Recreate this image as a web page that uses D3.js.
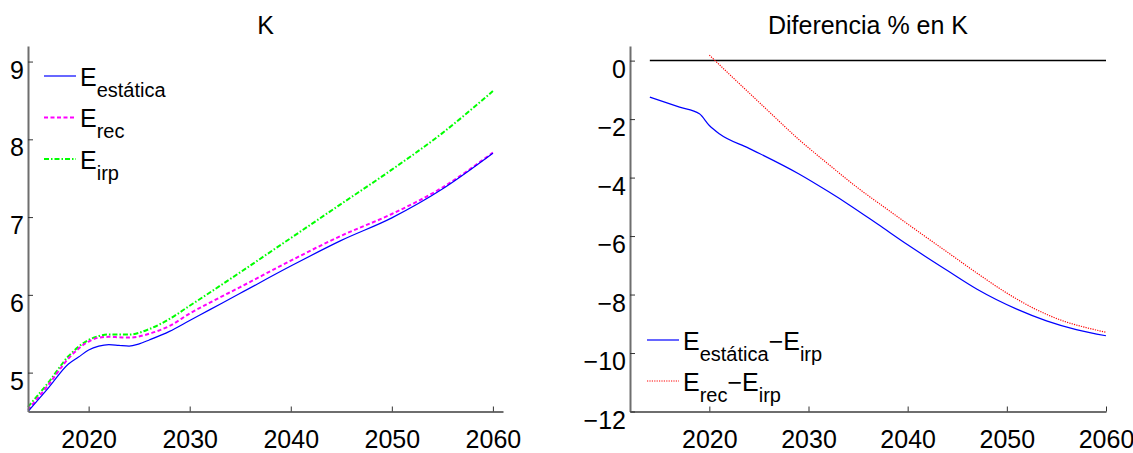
<!DOCTYPE html>
<html><head><meta charset="utf-8">
<script src="https://cdn.jsdelivr.net/npm/d3@7"></script>
<style>
body{margin:0;background:#fff;}
text{font-family:"Liberation Sans",Arial,Helvetica,sans-serif;fill:#000;}
</style></head>
<body><svg id="c" width="1133" height="453"></svg>
<script>
// ---- Data ----
const leftTitle = "K";
const rightTitle = "Diferencia % en K";

const yearsEst = [2014,2016,2018,2019,2020,2021,2022,2023,2024,2025,2026,2028,2030,2032,2035,2040,2045,2050,2055,2060];
const valEst   = [4.50,4.80,5.11,5.20,5.29,5.34,5.36,5.35,5.34,5.37,5.42,5.53,5.67,5.81,6.02,6.37,6.70,6.99,7.36,7.82];

const yearsRec = [2014,2016,2018,2020,2021,2022,2023,2024,2026,2028,2030,2032,2035,2040,2045,2050,2055,2060];
const valRec   = [4.52,4.84,5.18,5.40,5.45,5.46,5.455,5.45,5.50,5.60,5.76,5.90,6.10,6.44,6.76,7.04,7.38,7.83];

const yearsIrp = [2014,2016,2018,2020,2021,2022,2023,2024,2026,2028,2030,2032,2035,2040,2045,2050,2055,2060];
const valIrp   = [4.56,4.87,5.21,5.42,5.47,5.49,5.49,5.49,5.56,5.69,5.86,6.03,6.29,6.73,7.17,7.61,8.08,8.62];

const yearsDiffEst = [2014,2017,2019,2020,2021,2024,2029,2032,2034,2037,2040,2044,2047,2051,2054,2057,2060];
const valDiffEst   = [-1.25,-1.59,-1.82,-2.22,-2.50,-3.00,-3.87,-4.48,-4.91,-5.60,-6.30,-7.18,-7.82,-8.50,-8.90,-9.20,-9.41];

const yearsDiffRec = [2020,2022,2024,2026,2029,2032,2035,2038,2041,2044,2047,2050,2053,2056,2058,2060];
const valDiffRec   = [0.19,-0.46,-1.10,-1.74,-2.69,-3.54,-4.36,-5.10,-5.83,-6.55,-7.27,-7.95,-8.52,-8.94,-9.13,-9.29];

const zeroLineYears = [2014,2060];

const xTicks = [2020,2030,2040,2050,2060];
const yTicksLeft = [5,6,7,8,9];
const yTicksRight = [0,-2,-4,-6,-8,-10,-12];

// ---- Drawing ----
const svg = d3.select("#c");

function axes(g, x, y, xt, yt){
  const xa = g.append("g").attr("transform",`translate(0,${y.range()[0]})`)
    .call(d3.axisBottom(x).tickValues(xt).tickFormat(d3.format("d")).tickSizeInner(-5).tickSizeOuter(0));
  const ya = g.append("g").attr("transform",`translate(${x.range()[0]},0)`)
    .call(d3.axisLeft(y).tickValues(yt).tickFormat(d3.format("d")).tickSizeInner(-5).tickSizeOuter(0));
  [xa,ya].forEach(a=>{
    a.select(".domain").attr("stroke","#6e6e6e").attr("stroke-width",2);
    a.selectAll(".tick line").attr("stroke","#333").attr("stroke-width",1);
    a.selectAll(".tick text").style("font-size","25px").attr("fill","#000");
  });
  xa.selectAll(".tick text").attr("y",36).attr("dy",0).attr("text-anchor","middle");
  ya.selectAll(".tick text").attr("x",-4).attr("y",16.5).attr("dy",0).attr("text-anchor","end");
}

function line(g, x, y, xs, ys, color, width, dash, curve){
  const pts = xs.map((d,i)=>[d,ys[i]]);
  g.append("path").datum(pts)
    .attr("fill","none").attr("stroke",color).attr("stroke-width",width)
    .attr("stroke-dasharray",dash||null)
    .attr("d", d3.line().x(d=>x(d[0])).y(d=>y(d[1])).curve(curve||d3.curveMonotoneX));
}

function legendEntry(g, x0, x1, ly, color, width, dash, parts){
  g.append("line").attr("x1",x0).attr("x2",x1).attr("y1",ly).attr("y2",ly)
    .attr("stroke",color).attr("stroke-width",width).attr("stroke-dasharray",dash||null);
  const t = g.append("text").attr("x",x1+4).attr("y",ly+9.5).style("font-size","25px");
  let sub=false;
  parts.forEach(p=>{
    const isSub = p[1];
    const ts = t.append("tspan").text(p[0]);
    if(isSub && !sub){ ts.attr("dy",11).style("font-size","20px"); sub=true; }
    else if(isSub){ ts.style("font-size","20px"); }
    else if(!isSub && sub){ ts.attr("dy",-11).style("font-size","25px"); sub=false; }
    else { ts.style("font-size","25px"); }
  });
}

// Left panel
const xL = d3.scaleLinear().domain([2014,2061]).range([28,503]);
const yL = d3.scaleLinear().domain([4.5,9.2]).range([411.5,46]);
const gL = svg.append("g");
line(gL,xL,yL,yearsIrp,valIrp,"#00ff00",2,"5,2,1.5,2");
line(gL,xL,yL,yearsRec,valRec,"#ff00ff",2,"4,2.5");
line(gL,xL,yL,yearsEst,valEst,"#0000ff",1.2,null);
axes(gL,xL,yL,xTicks,yTicksLeft);
svg.append("text").attr("x",(28+503)/2).attr("y",34).attr("text-anchor","middle").style("font-size","25px").text(leftTitle);
legendEntry(gL,44,76,76,"#0000ff",1.2,null,[["E",false],["estática",true]]);
legendEntry(gL,44,76,117.5,"#ff00ff",2,"4,2.5",[["E",false],["rec",true]]);
legendEntry(gL,44,76,159,"#00ff00",2,"5,2,1.5,2",[["E",false],["irp",true]]);

// Right panel
const xR = d3.scaleLinear().domain([2012,2060]).range([630,1106]);
const yR = d3.scaleLinear().domain([-12,0.5]).range([411.5,46]);
const gR = svg.append("g");
line(gR,xR,yR,zeroLineYears,[0,0],"#000",1.5,null,d3.curveLinear);
line(gR,xR,yR,yearsDiffRec,valDiffRec,"#ff0000",1.2,"1.2,1.2");
line(gR,xR,yR,yearsDiffEst,valDiffEst,"#0000ff",1.2,null);
axes(gR,xR,yR,xTicks,yTicksRight);
svg.append("text").attr("x",(630+1106)/2).attr("y",34).attr("text-anchor","middle").style("font-size","25px").text(rightTitle);
legendEntry(gR,647,679,340,"#0000ff",1.2,null,[["E",false],["estática",true],["\u2212E",false],["irp",true]]);
legendEntry(gR,647,679,381,"#ff0000",1.2,"1.2,1.2",[["E",false],["rec",true],["\u2212E",false],["irp",true]]);
</script></body></html>
